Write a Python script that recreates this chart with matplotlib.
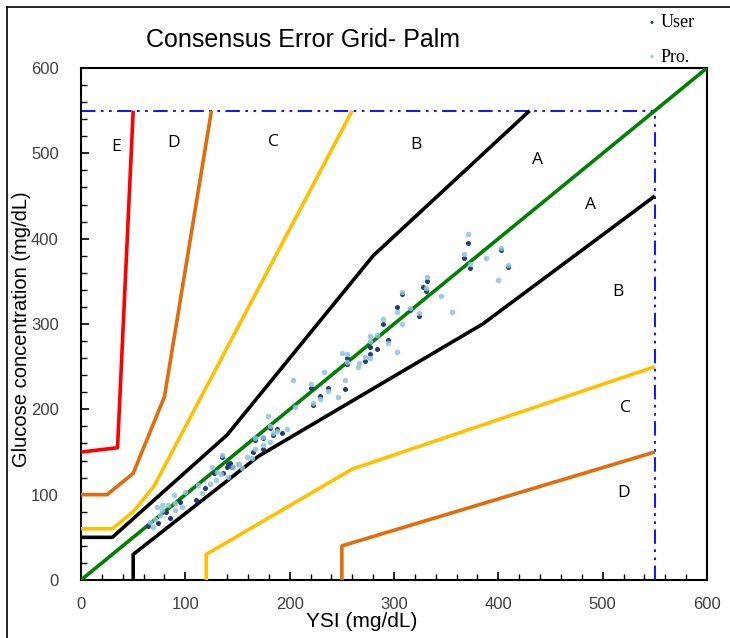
import numpy as np
import matplotlib
matplotlib.use('Agg')
from matplotlib import pyplot as plt
from matplotlib.lines import Line2D
from matplotlib.ticker import MultipleLocator

plt.rcParams['font.family'] = ['Liberation Sans', 'DejaVu Sans']

# zone boundaries (consensus error grid, type 1)
ab_up = [(0, 50), (30, 50), (140, 170), (280, 380), (430, 550)]
bc_up = [(0, 60), (30, 60), (50, 80), (70, 110), (260, 550)]
cd_up = [(0, 100), (25, 100), (50, 125), (80, 215), (125, 550)]
de_up = [(0, 150), (35, 155), (50, 550)]
ab_lo = [(50, 0), (50, 30), (170, 145), (385, 300), (550, 450)]
bc_lo = [(120, 0), (120, 30), (260, 130), (550, 250)]
cd_lo = [(250, 0), (250, 40), (550, 150)]

zone_labels = ['E', 'D', 'C', 'B', 'A', 'A', 'B', 'C', 'D']
zone_x = [34, 89, 184, 321, 438, 488, 515, 522, 520]
zone_y = [507, 512, 513, 510, 492, 440, 337, 202, 102]

# readings
user_x = [371, 367, 373, 403, 409, 332, 328, 331, 308, 303, 315, 324, 289,
          294, 284, 277, 277, 272, 255, 255, 220, 237, 253, 229, 222, 181,
          188, 184, 193, 174, 167, 174, 165, 135, 143, 136, 140, 127, 141,
          145, 119, 110, 95, 81, 85, 64, 74]
user_y = [395, 377, 366, 387, 367, 350, 343, 339, 335, 320, 316, 309, 300,
          281, 271, 273, 265, 257, 260, 253, 225, 225, 224, 216, 205, 178,
          177, 170, 172, 166, 164, 154, 150, 144, 137, 125, 132, 125, 136,
          133, 108, 94, 91, 80, 73, 63, 67]
pro_x = [371, 367, 373, 388, 403, 409, 400, 332, 331, 345, 308, 303, 315,
         324, 356, 289, 308, 303, 277, 284, 294, 277, 277, 272, 266, 265,
         250, 255, 255, 233, 203, 220, 237, 253, 229, 246, 222, 205, 179,
         181, 188, 197, 184, 174, 181, 167, 174, 167, 159, 164, 135, 146,
         154, 151, 126, 130, 141, 150, 129, 124, 112, 116, 100, 89, 97, 90,
         83, 78, 73, 76, 71, 66, 69, 90, 78, 134]
pro_y = [405, 382, 370, 377, 389, 369, 352, 355, 342, 333, 337, 314, 319,
         313, 314, 306, 300, 267, 286, 287, 278, 280, 260, 261, 254, 250,
         266, 265, 256, 244, 234, 230, 221, 234, 212, 214, 207, 203, 192,
         180, 175, 177, 172, 168, 162, 166, 158, 154, 144, 143, 146, 132,
         131, 136, 132, 126, 121, 136, 117, 113, 111, 102, 103, 100, 86, 82,
         88, 88, 86, 76, 71, 68, 62, 90, 82, 124]

fig = plt.figure(figsize=(7.3, 6.38), dpi=100)
ax = fig.add_axes([0.111, 0.0909, 0.8575, 0.8025])

def draw(pts, color):
    xs = [p[0] for p in pts]
    ys = [p[1] for p in pts]
    ax.plot(xs, ys, color=color, lw=2.6, solid_capstyle='butt', zorder=3)

draw(ab_up, 'black')
draw(ab_lo, 'black')
draw(bc_up, '#ffc000')
draw(bc_lo, '#ffc000')
draw(cd_up, '#e36c0a')
draw(cd_lo, '#e36c0a')
draw(de_up, '#ff0000')
ax.plot([0, 600], [0, 600], color='#008000', lw=2.6, zorder=4)
ax.plot([0, 550], [550, 550], color='#0000ff', lw=1.3, ls=(0, (8, 3, 1.5, 3, 1.5, 3)), zorder=2)
ax.plot([550, 550], [0, 550], color='#0000ff', lw=1.3, ls=(0, (8, 3, 1.5, 3, 1.5, 3)), zorder=2)

ax.scatter(user_x, user_y, s=13, color='#1f3d7a', zorder=5, lw=0)
ax.scatter(pro_x, pro_y, s=16, color='#8ec5da', alpha=0.85, zorder=6, lw=0)

for lab, x, y in zip(zone_labels, zone_x, zone_y):
    ax.text(x, y, lab, fontsize=12.5, family='Open Sans', ha='center', va='center')

ax.set_xlim(0, 600)
ax.set_ylim(0, 600)
ax.xaxis.set_major_locator(MultipleLocator(100))
ax.xaxis.set_minor_locator(MultipleLocator(20))
ax.yaxis.set_major_locator(MultipleLocator(100))
ax.yaxis.set_minor_locator(MultipleLocator(20))
ax.tick_params(which='both', direction='in', color='black', labelcolor='#404040',
               labelsize=12)
ax.tick_params(which='major', length=6, width=1.2)
ax.tick_params(which='minor', length=4, width=1)
ax.tick_params(axis='y', pad=16)
ax.tick_params(axis='x', pad=12)
for sp in ax.spines.values():
    sp.set_linewidth(1.5)

ax.set_xlabel('YSI (mg/dL)', fontsize=15)
ax.xaxis.set_label_coords(0.449, -0.063)
ax.set_ylabel('Glucose concentration (mg/dL)', fontsize=14.5)
ax.yaxis.set_label_coords(-0.08, 0.49)

fig.text(0.415, 0.937, 'Consensus Error Grid- Palm', fontsize=18, ha='center', va='center')

# legend
fig.text(0.893, 0.964, '\u2022', color='#1f3d7a', fontsize=8, ha='center', va='center')
fig.text(0.905, 0.964, 'User', family='Liberation Serif', fontsize=13, va='center')
fig.text(0.893, 0.91, '\u2022', color='#8ec5da', fontsize=8, ha='center', va='center')
fig.text(0.905, 0.91, 'Pro.', family='Liberation Serif', fontsize=13, va='center')

# frame at top and left
fig.add_artist(Line2D([0.0096, 1.0], [0.989, 0.989], color='black', lw=1.2))
fig.add_artist(Line2D([0.0096, 0.0096], [0.0, 0.989], color='black', lw=1.2))

fig.savefig('out.png', dpi=100)
